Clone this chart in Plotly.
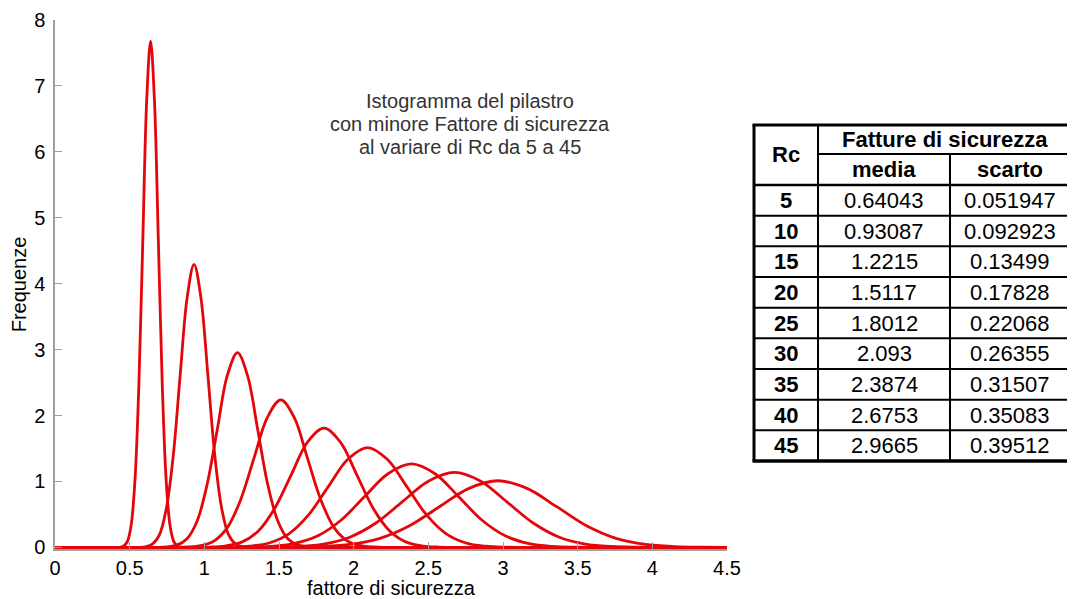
import plotly.graph_objects as go

# table values
rc = [5, 10, 15, 20, 25, 30, 35, 40, 45]
media = [0.64043, 0.93087, 1.2215, 1.5117, 1.8012, 2.093, 2.3874, 2.6753, 2.9665]
scarto = [0.051947, 0.092923, 0.13499, 0.17828, 0.22068, 0.26355, 0.31507, 0.35083, 0.39512]

# curves (x, frequenza)
x_rc5 = [0, 0.432, 0.458, 0.484, 0.510, 0.536, 0.562, 0.588, 0.614, 0.640, 0.666, 0.692, 0.718, 0.744, 0.770, 0.796, 0.822, 0.848, 4.5]
y_rc5 = [0, 0, 0.017, 0.085, 0.337, 1.039, 2.494, 4.658, 6.778, 7.68, 6.778, 4.658, 2.494, 1.039, 0.337, 0.085, 0.017, 0, 0]
x_rc10 = [0, 0.559, 0.606, 0.652, 0.699, 0.745, 0.792, 0.838, 0.885, 0.931, 0.977, 1.024, 1.070, 1.117, 1.163, 1.210, 1.256, 1.303, 4.5]
y_rc10 = [0, 0, 0.009, 0.048, 0.188, 0.581, 1.394, 2.604, 3.789, 4.293, 3.789, 2.604, 1.394, 0.581, 0.188, 0.048, 0.009, 0, 0]
x_rc15 = [0, 0.682, 0.749, 0.817, 0.884, 0.952, 1.019, 1.087, 1.154, 1.222, 1.289, 1.357, 1.424, 1.492, 1.559, 1.627, 1.694, 1.762, 4.5]
y_rc15 = [0, 0, 0.007, 0.033, 0.130, 0.400, 0.959, 1.792, 2.608, 2.955, 2.608, 1.792, 0.959, 0.400, 0.130, 0.033, 0.007, 0, 0]
x_rc20 = [0, 0.799, 0.888, 0.977, 1.066, 1.155, 1.244, 1.333, 1.423, 1.512, 1.601, 1.690, 1.779, 1.868, 1.957, 2.046, 2.136, 2.225, 4.5]
y_rc20 = [0, 0, 0.005, 0.025, 0.098, 0.303, 0.727, 1.357, 1.975, 2.238, 1.975, 1.357, 0.727, 0.303, 0.098, 0.025, 0.005, 0, 0]
x_rc25 = [0, 0.918, 1.029, 1.139, 1.250, 1.360, 1.470, 1.581, 1.691, 1.801, 1.911, 2.022, 2.132, 2.243, 2.353, 2.463, 2.574, 2.684, 4.5]
y_rc25 = [0, 0, 0.004, 0.020, 0.079, 0.245, 0.587, 1.097, 1.596, 1.808, 1.596, 1.097, 0.587, 0.245, 0.079, 0.020, 0.004, 0, 0]
x_rc30 = [0, 1.039, 1.171, 1.302, 1.434, 1.566, 1.698, 1.829, 1.961, 2.093, 2.225, 2.357, 2.488, 2.620, 2.752, 2.884, 3.015, 3.147, 4.5]
y_rc30 = [0, 0, 0.003, 0.017, 0.066, 0.205, 0.492, 0.918, 1.336, 1.514, 1.336, 0.918, 0.492, 0.205, 0.066, 0.017, 0.003, 0, 0]
x_rc35 = [0, 1.127, 1.285, 1.442, 1.600, 1.757, 1.915, 2.072, 2.230, 2.387, 2.545, 2.703, 2.860, 3.018, 3.175, 3.333, 3.490, 3.648, 4.5]
y_rc35 = [0, 0, 0.003, 0.014, 0.056, 0.171, 0.411, 0.768, 1.117, 1.266, 1.117, 0.768, 0.411, 0.171, 0.056, 0.014, 0.003, 0, 0]
x_rc40 = [0, 1.272, 1.447, 1.623, 1.798, 1.974, 2.149, 2.325, 2.500, 2.675, 2.851, 3.026, 3.202, 3.377, 3.552, 3.728, 3.903, 4.079, 4.5]
y_rc40 = [0, 0, 0.003, 0.013, 0.050, 0.154, 0.369, 0.690, 1.003, 1.137, 1.003, 0.690, 0.369, 0.154, 0.050, 0.013, 0.003, 0, 0]
x_rc45 = [0, 1.386, 1.584, 1.781, 1.979, 2.176, 2.374, 2.572, 2.769, 2.967, 3.164, 3.362, 3.559, 3.757, 3.954, 4.152, 4.349, 4.5]
y_rc45 = [0, 0, 0.002, 0.011, 0.044, 0.137, 0.328, 0.613, 0.891, 1.010, 0.891, 0.613, 0.328, 0.137, 0.044, 0.011, 0.002, 0]

curves = [(x_rc5, y_rc5), (x_rc10, y_rc10), (x_rc15, y_rc15), (x_rc20, y_rc20), (x_rc25, y_rc25),
          (x_rc30, y_rc30), (x_rc35, y_rc35), (x_rc40, y_rc40), (x_rc45, y_rc45)]

title_lines = ["Istogramma del pilastro", "con minore Fattore di sicurezza", "al variare di Rc da 5 a 45"]

OFF = 8  # page body margin
W, H = 1075 - OFF, 599 - OFF
FONT = "Liberation Sans, Arial, sans-serif"
RED = "#e3060b"
GREY = "#a0a0a0"

# screen pixel -> paper (no margins, paper == whole figure)
def px(x):
    return (x - OFF) / W

def py(y):
    return 1 - (y - OFF) / H

fig = go.Figure()
for xs, ys in curves:
    fig.add_trace(go.Scatter(x=xs, y=ys, mode="lines", line=dict(color=RED, width=2.8, shape="spline", smoothing=1),
                             hoverinfo="skip", showlegend=False))

def text_at(x, y, txt, size=20, color="black"):
    fig.add_annotation(x=px(x), y=py(y), xref="paper", yref="paper", showarrow=False,
                       xanchor="center", yanchor="middle", text=txt,
                       font=dict(family=FONT, size=size, color=color))

for i, line in enumerate(title_lines):
    text_at(470, 101 + i * 23, line, 20, "#333333")

# table drawn with shapes + annotations
tl, c1, c2, tr = 754, 818, 950, 1075
top, hmid, hbot = 125, 154, 185
rowh = (461 - hbot) / len(rc)
bot = hbot + rowh * len(rc)

def hline(y, x0, x1, w=2):
    fig.add_shape(type="line", xref="paper", yref="paper", x0=px(x0), x1=px(x1), y0=py(y), y1=py(y),
                  line=dict(color="black", width=w))

def vline(x, y0, y1, w=2):
    fig.add_shape(type="line", xref="paper", yref="paper", x0=px(x), x1=px(x), y0=py(y0), y1=py(y1),
                  line=dict(color="black", width=w))

hline(top, tl - 1.5, tr, 3)
hline(hmid, c1, tr, 2)
hline(hbot, tl, tr, 2.5)
for i in range(1, len(rc)):
    hline(hbot + i * rowh, tl, tr, 2)
hline(bot, tl - 1.5, tr, 3.5)
vline(tl, top, bot, 3)
vline(c1, top, bot, 2)
vline(c2, hmid, bot, 2)

def cell(x, y, txt, bold=False):
    text_at(x, y, f"<b>{txt}</b>" if bold else txt, 22)

cell((tl + c1) / 2, (top + hbot) / 2, "Rc", True)
cell((c1 + tr) / 2 - 2, (top + hmid) / 2, "Fatture di sicurezza", True)
cell((c1 + c2) / 2, (hmid + hbot) / 2, "media", True)
cell((c2 + tr) / 2 - 3, (hmid + hbot) / 2, "scarto", True)
for i, (r, m, s) in enumerate(zip(rc, media, scarto)):
    yc = hbot + (i + 0.5) * rowh
    cell((tl + c1) / 2, yc, str(r), True)
    cell((c1 + c2) / 2, yc, str(m))
    cell((c2 + tr) / 2 - 3, yc, str(s))

axis_common = dict(showgrid=False, zeroline=False, showline=True, linecolor=GREY, linewidth=1.5,
                   ticks="inside", ticklen=7, tickcolor=GREY, tickwidth=1, automargin=False,
                   tickfont=dict(family=FONT, size=20, color="black"))

fig.update_layout(
    width=W, height=H,
    margin=dict(l=0, r=0, t=0, b=0),
    paper_bgcolor="white", plot_bgcolor="white",
    xaxis=dict(range=[0, 4.5], tick0=0, dtick=0.5, domain=[px(55), px(727)], ticklabelstandoff=0, **axis_common,
               title=dict(text="fattore di sicurezza", font=dict(family=FONT, size=20, color="black"), standoff=0)),
    yaxis=dict(range=[-0.025, 8], tick0=0, dtick=1, domain=[py(549), py(20)], ticklabelstandoff=4, **axis_common,
               title=dict(text="Frequenze", font=dict(family=FONT, size=20, color="black"), standoff=3)),
)

fig.write_html("out.html")
